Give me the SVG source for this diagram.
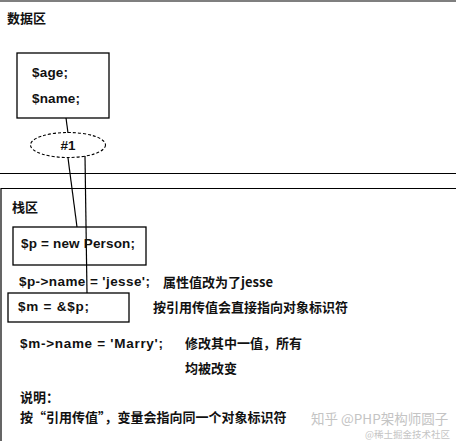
<svg xmlns="http://www.w3.org/2000/svg" width="456" height="441" viewBox="0 0 456 441">
<style>
.t{font-family:"Liberation Sans","Noto Sans CJK SC",sans-serif;font-size:13.5px;font-weight:bold;fill:#111}
.c{font-family:"Noto Sans CJK SC","Liberation Sans",sans-serif;font-size:13px;font-weight:bold;fill:#111}
.box{fill:none;stroke:#000;stroke-width:1.3}
.ln{stroke:#000;stroke-width:1.2;fill:none}
.wm{font-family:"Noto Sans CJK SC","Liberation Sans",sans-serif;fill:#c4c4c4}
</style>
<rect width="456" height="441" fill="#fff"/>
<g id="data-area">
<line class="ln" x1="0" y1="1" x2="456" y2="1"/>
<line class="ln" x1="0" y1="173.5" x2="456" y2="173.5"/>
<text class="c" x="7" y="23">数据区</text>
</g>
<g id="stack-area">
<path class="ln" d="M456 188.5 H1 V441"/>
<text class="c" x="12" y="212">栈区</text>
</g>
<g id="object">
<rect class="box" x="17" y="53" width="92" height="65"/>
<text class="t" x="32" y="77" textLength="36" lengthAdjust="spacing">$age;</text>
<text class="t" x="32" y="103" textLength="48" lengthAdjust="spacing">$name;</text>
</g>
<g id="id1">
<ellipse cx="68" cy="145" rx="37.5" ry="12.5" fill="#fff" stroke="#000" stroke-width="1.1" stroke-dasharray="3,2"/>
<text class="t" x="68" y="150" text-anchor="middle">#1</text>
</g>
<g id="connectors">
<line class="ln" x1="66" y1="118" x2="68" y2="133"/>
<line class="ln" x1="68" y1="158" x2="77" y2="227"/>
<line class="ln" x1="85" y1="156" x2="87" y2="293"/>
</g>
<g id="p">
<rect class="box" x="13" y="227" width="133" height="38"/>
<text class="t" x="21" y="248" textLength="114" lengthAdjust="spacing">$p = new Person;</text>
</g>
<g id="pname">
<text class="t" x="19" y="286" textLength="131" lengthAdjust="spacing">$p-&gt;name = 'jesse';</text>
<text class="c" x="163" y="287">属性值改为了jesse</text>
</g>
<g id="m">
<rect class="box" x="8" y="293" width="121" height="29"/>
<text class="t" x="18" y="311" textLength="71" lengthAdjust="spacing">$m = &amp;$p;</text>
<text class="c" x="153" y="312">按引用传值会直接指向对象标识符</text>
</g>
<g id="mname">
<text class="t" x="20" y="348" textLength="143" lengthAdjust="spacing">$m-&gt;name = 'Marry';</text>
<text class="c" x="185" y="348">修改其中一值，所有</text>
<text class="c" x="185" y="373">均被改变</text>
</g>
<g id="note">
<text class="c" x="20" y="402">说明：</text>
<text class="c" x="20" y="422">按“引用传值”，变量会指向同一个对象标识符</text>
</g>
<g id="watermark">
<text class="wm" x="311" y="424" font-size="13.5">知乎 @PHP架构师圆子</text>
<text class="wm" x="365" y="438" font-size="9.5">@稀土掘金技术社区</text>
</g>
</svg>
